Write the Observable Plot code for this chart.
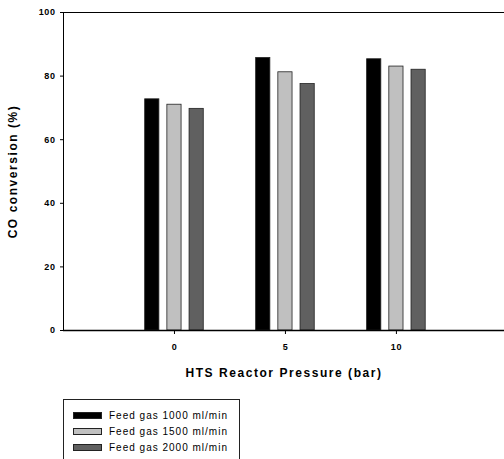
<!DOCTYPE html>
<html>
<head>
<meta charset="utf-8">
<script src="https://cdn.jsdelivr.net/npm/d3@7"></script>
<script src="https://cdn.jsdelivr.net/npm/@observablehq/plot@0.6"></script>
<style>
  body { margin: 0; background: #fff; font-family: "Liberation Sans", Arial, sans-serif; }
  #wrap { position: relative; width: 504px; height: 459px; overflow: hidden; }
  .axlab { letter-spacing: 1.55px; }
  .ticklab text { letter-spacing: 0.6px; }
  #legend { position: absolute; left: 63px; top: 399px; width: 177px; height: 80px;
    border: 1px solid #222; box-sizing: border-box; font-size: 10px; letter-spacing: 1px; }
  .row { position: absolute; left: 9px; height: 10px; display: flex; align-items: center; }
  .sw { width: 29px; height: 7px; border: 1px solid #222; box-sizing: border-box; margin-right: 7px; }
</style>
</head>
<body>
<div id="wrap"></div>
<script>
const pressures = [0, 5, 10];
const seriesNames = ["Feed gas 1000 ml/min", "Feed gas 1500 ml/min", "Feed gas 2000 ml/min"];
const v1000 = [72.7, 85.7, 85.3];
const v1500 = [71.0, 81.2, 83.0];
const v2000 = [69.7, 77.5, 82.0];
const seriesColors = ["#000000", "#c0c0c0", "#606060"];
const yTicks = [0, 20, 40, 60, 80, 100];
const xTicks = [0, 5, 10];

const offsets = [-1, 0, 1];
const halfWidth = 0.32;
const allValues = [v1000, v1500, v2000];
const data = [];
allValues.forEach((vals, s) => {
  vals.forEach((v, i) => {
    data.push({p: pressures[i], s, name: seriesNames[s], v,
      x1: pressures[i] + offsets[s] - halfWidth, x2: pressures[i] + offsets[s] + halfWidth});
  });
});

const chart = Plot.plot({
  width: 504,
  height: 395,
  marginLeft: 63,
  marginRight: 0,
  marginTop: 12,
  marginBottom: 65,
  style: {fontFamily: "'Liberation Sans', Arial, sans-serif", fontSize: "9px", fontWeight: "bold", background: "white"},
  x: {domain: [-5, 14.87]},
  y: {domain: [0, 100]},
  marks: [
    Plot.rectY(data, {x1: "x1", x2: "x2", y: "v", fill: d => seriesColors[d.s], stroke: "#222", strokeWidth: 0.8}),
    Plot.axisY({ticks: yTicks, tickSize: 3, tickPadding: 5, label: null, className: "ticklab"}),
    Plot.axisX({ticks: xTicks, tickSize: 4, tickPadding: 9, label: null, className: "ticklab"}),
    Plot.ruleY([0], {stroke: "#000", strokeWidth: 1.5}),
    Plot.ruleY([100], {stroke: "#000", strokeWidth: 1}),
    Plot.ruleX([-5], {stroke: "#000", strokeWidth: 1}),
    Plot.text(["HTS Reactor Pressure (bar)"], {frameAnchor: "bottom", dy: 46, fontSize: 12, fontWeight: "bold", className: "axlab"}),
    Plot.text(["CO conversion (%)"], {frameAnchor: "left", textAnchor: "middle", dx: -50, rotate: -90, fontSize: 12, fontWeight: "bold", className: "axlab"})
  ]
});
document.getElementById("wrap").appendChild(chart);

const leg = document.createElement("div");
leg.id = "legend";
seriesNames.forEach((n, i) => {
  const row = document.createElement("div");
  row.className = "row";
  row.style.top = (10 + i * 16) + "px";
  const sw = document.createElement("div");
  sw.className = "sw";
  sw.style.background = seriesColors[i];
  const t = document.createElement("span");
  t.textContent = n;
  row.appendChild(sw);
  row.appendChild(t);
  leg.appendChild(row);
});
document.getElementById("wrap").appendChild(leg);
</script>
</body>
</html>
